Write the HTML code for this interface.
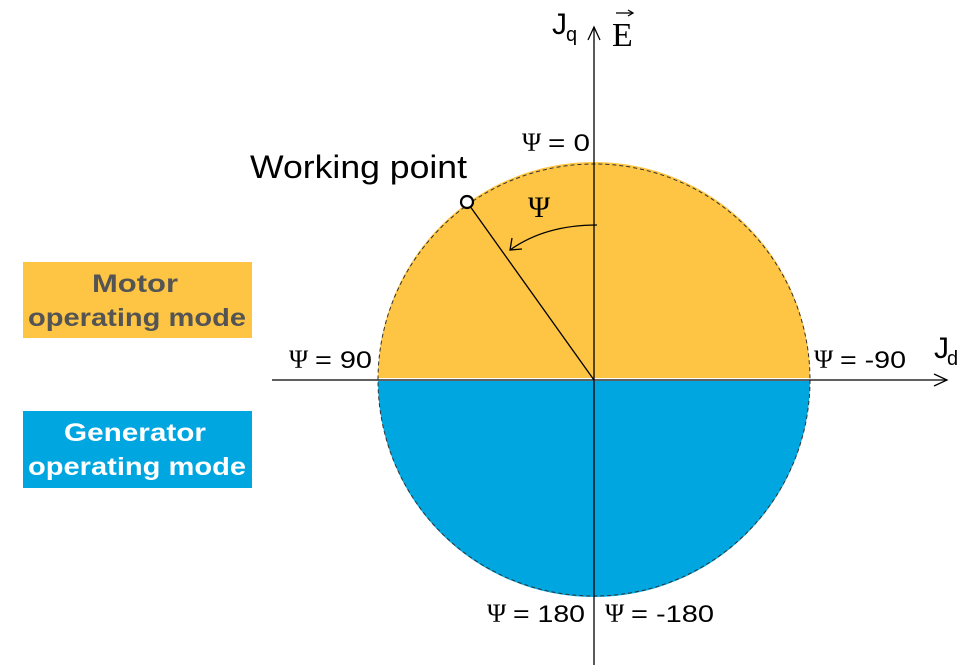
<!DOCTYPE html>
<html><head><style>
body{margin:0;background:#fff;width:966px;height:666px;overflow:hidden;font-family:"Liberation Sans",sans-serif}
</style></head><body>
<svg width="966" height="666" style="position:absolute;left:0;top:0" font-family="Liberation Sans,sans-serif">
<rect x="23" y="262" width="229" height="76" fill="#fdc543"/>
<rect x="23" y="411" width="229" height="77" fill="#00a6df"/>
<g font-weight="bold" font-size="25" text-anchor="middle">
<text x="135" y="292" fill="#545454" textLength="86" lengthAdjust="spacingAndGlyphs">Motor</text>
<text x="137" y="326" fill="#545454" textLength="218" lengthAdjust="spacingAndGlyphs">operating mode</text>
<text x="135" y="441" fill="#fff" textLength="142" lengthAdjust="spacingAndGlyphs">Generator</text>
<text x="137" y="475" fill="#fff" textLength="218" lengthAdjust="spacingAndGlyphs">operating mode</text>
</g>
<path d="M378,378 A216,216 0 0 1 810,378 Z" fill="#fdc543"/>
<path d="M378,381 A216,216 0 0 0 810,381 Z" fill="#00a6df"/>
<circle cx="594" cy="380" r="216" fill="none" stroke="#333" stroke-width="1" stroke-dasharray="4,3"/>
<line x1="594" y1="665" x2="594" y2="27" stroke="#000" stroke-width="1.3"/>
<polyline points="588,40 594,27 600,40" fill="none" stroke="#000" stroke-width="1.3"/>
<line x1="272" y1="380" x2="947" y2="380" stroke="#000" stroke-width="1.3"/>
<polyline points="934,374 947,380 934,386" fill="none" stroke="#000" stroke-width="1.3"/>
<line x1="594" y1="380" x2="467" y2="202" stroke="#000" stroke-width="1.3"/>
<circle cx="467" cy="202" r="6" fill="#fff" stroke="#000" stroke-width="2.2"/>
<path d="M597,225 Q545,225 510,250" fill="none" stroke="#000" stroke-width="1.3"/>
<polyline points="512,238 510,250 522,249" fill="none" stroke="#000" stroke-width="1.3"/>
<g font-family="Liberation Serif,serif" font-size="26" fill="#000">
<text x="522" y="151">Ψ</text><text x="289" y="368">Ψ</text><text x="814" y="368">Ψ</text>
<text x="487" y="622">Ψ</text><text x="605" y="622">Ψ</text>
<text x="528" y="217" font-size="30">Ψ</text>
<text x="612" y="46" font-size="34">E</text>
</g>
<line x1="616" y1="13" x2="632" y2="13" stroke="#000" stroke-width="1.3"/>
<polyline points="628,10 633,13 628,16" fill="none" stroke="#000" stroke-width="1.3"/>
<g font-size="24" fill="#000">
<text x="548" y="151" textLength="42" lengthAdjust="spacingAndGlyphs">= 0</text>
<text x="315" y="368" textLength="57" lengthAdjust="spacingAndGlyphs">= 90</text>
<text x="840" y="368" textLength="66" lengthAdjust="spacingAndGlyphs">= -90</text>
<text x="513" y="622" textLength="72" lengthAdjust="spacingAndGlyphs">= 180</text>
<text x="631" y="622" textLength="83" lengthAdjust="spacingAndGlyphs">= -180</text>
</g>
<text x="250" y="178" font-size="32" textLength="217" lengthAdjust="spacingAndGlyphs">Working point</text>
<text x="552" y="34" font-size="30">J</text><text x="566" y="41" font-size="20">q</text>
<text x="934" y="358" font-size="30">J</text><text x="947" y="365" font-size="20">d</text>
</svg>
</body></html>
